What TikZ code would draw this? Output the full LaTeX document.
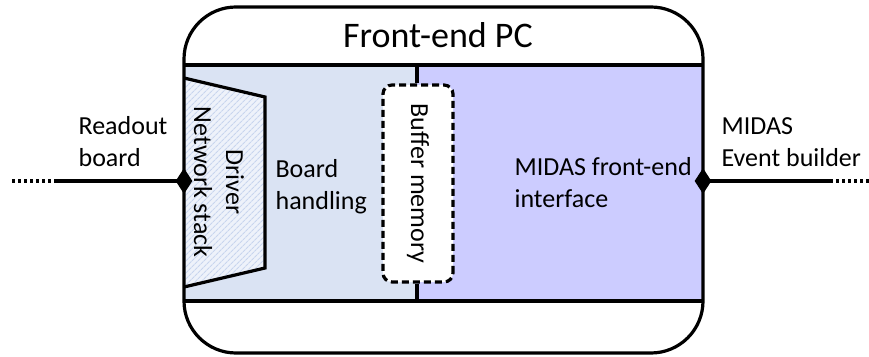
\documentclass[tikz,border=0pt]{standalone}
\usepackage{fontspec}
\setmainfont{Carlito}
\usetikzlibrary{shapes.geometric,patterns.meta}
\definecolor{leftblue}{HTML}{DAE3F3}
\definecolor{rightlav}{HTML}{CCCCFF}
\definecolor{hatchbg}{HTML}{EEF2FA}
\definecolor{hatchln}{HTML}{C8D5EE}
\begin{document}
\begin{tikzpicture}[x=1pt,y=1pt,line width=3.2pt,
  lbl/.style={font=\fontsize{26}{32}\selectfont,inner sep=0pt,align=left},
  port/.style={diamond,fill=black,draw=none,minimum width=18pt,minimum height=27pt,inner sep=0pt},
  wire/.style={line width=3.2pt},
  dotwire/.style={line width=3.2pt,dash pattern=on 3pt off 3pt},
  bufbox/.style={draw,fill=white,dash pattern=on 7pt off 4pt,rounded corners=9pt,rotate=-90,
    minimum width=197pt,minimum height=70pt,inner sep=0pt,font=\fontsize{26}{32}\selectfont,align=center}]
\useasboundingbox (0,0) rectangle (869,356);
% bands
\fill[white,rounded corners=52pt] (184,3) rectangle (703,349);
\fill[leftblue] (184,55) rectangle (417,291);
\fill[rightlav] (417,55) rectangle (703,291);
% trapezoid (driver / network stack)
\fill[hatchbg] (184,278) -- (265,259) -- (265,88) -- (184,69) -- cycle;
\fill[pattern={Lines[angle=45,distance=4pt,line width=1.2pt]},pattern color=hatchln]
  (184,278) -- (265,259) -- (265,88) -- (184,69) -- cycle;
\draw[line join=miter] (184,278) -- (265,259) -- (265,88) -- (184,69);
% outer box
\draw[rounded corners=52pt] (184,3) rectangle (703,349);
\draw (184,291) -- (703,291);
\draw (184,55) -- (703,55);
% divider and buffer
\coordinate (bandtop) at (417,291);
\coordinate (bandbot) at (417,55);
\node[bufbox] (buf) at (418,172.5) {Buffer memory};
\draw (bandtop) -- (bandtop |- buf.west);
\draw (bandbot |- buf.east) -- (bandbot);
% ports
\node[port] (dl) at (184,175) {};
\node[port] (dr) at (703,175) {};
\coordinate (lfar) at (12,175);
\coordinate (lmid) at (57,175);
\coordinate (rmid) at (830,175);
\coordinate (rfar) at (869,175);
\draw[dotwire] (lfar) -- (lmid);
\draw[wire] (lmid) -- (dl.center);
\draw[wire] (dr.center) -- (rmid);
\draw[dotwire] (rmid) -- (rfar);
% texts
\node[font=\fontsize{36}{43}\selectfont,inner sep=0pt,anchor=base] (title) at (438,308) {Front-end PC};
\node[lbl,align=center,rotate=-90] (drv) at (219,174) {Driver\\Network stack};
\node[lbl,anchor=base west] (rb) at (77,189) {Readout\\board};
\node[lbl,anchor=base west] (bh) at (274,146) {Board\\handling};
\node[lbl,anchor=base west] (mfe) at (513,148) {MIDAS front-end\\interface};
\node[lbl,anchor=base west] (meb) at (720,189) {MIDAS\\Event builder};
\end{tikzpicture}
\end{document}
